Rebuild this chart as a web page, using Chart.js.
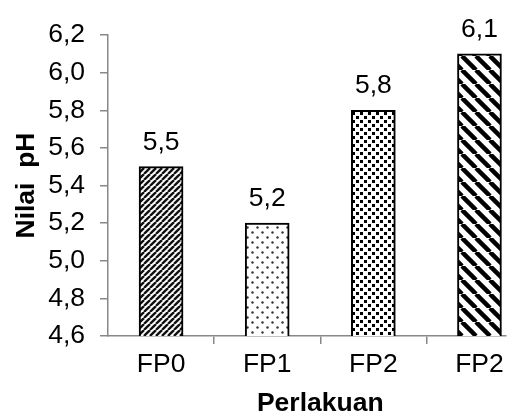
<!DOCTYPE html>
<html>
<head>
<meta charset="utf-8">
<script src="https://cdn.jsdelivr.net/npm/chart.js@4/dist/chart.umd.min.js"></script>
<style>
html,body{margin:0;padding:0;background:#fff;overflow:hidden;}
canvas{display:block;}
</style>
</head>
<body>
<canvas id="c" width="518" height="417"></canvas>
<script>
const categories = ['FP0', 'FP1', 'FP2', 'FP2'];
const phValues = [5.5, 5.2, 5.8, 6.1];
const yTicks = [4.6, 4.8, 5.0, 5.2, 5.4, 5.6, 5.8, 6.0, 6.2];
const yTitle = 'Nilai  pH';
const xTitle = 'Perlakuan';

const FONT = '"Liberation Sans", Arial, sans-serif';
const FS = 26.5;

function makeTile(w, h, draw) {
  const t = document.createElement('canvas');
  t.width = w; t.height = h;
  const g = t.getContext('2d');
  g.fillStyle = '#fff';
  g.fillRect(0, 0, w, h);
  draw(g, w, h);
  return document.createElement('canvas').getContext('2d').createPattern(t, 'repeat');
}
const patFine = makeTile(6, 6, (g, w, h) => {
  g.strokeStyle = '#111'; g.lineWidth = 2.4;
  for (const o of [-w, 0, w]) { g.beginPath(); g.moveTo(o, h); g.lineTo(o + w, 0); g.stroke(); }
});
const patDots = makeTile(10, 10, (g) => {
  g.fillStyle = '#333';
  for (const [x, y] of [[2.5, 2.5], [7.5, 7.5]]) { g.beginPath(); g.arc(x, y, 1.2, 0, Math.PI * 2); g.fill(); }
});
const patSquares = makeTile(8, 8, (g) => {
  g.fillStyle = '#000';
  g.fillRect(0, 0, 3, 3);
  g.fillRect(4, 4, 3, 3);
});
const patWide = makeTile(14, 14, (g, w, h) => {
  g.strokeStyle = '#000'; g.lineWidth = 4.5;
  for (const o of [-w, 0, w]) { g.beginPath(); g.moveTo(o, 0); g.lineTo(o + w, h); g.stroke(); }
});
const patterns = [patFine, patDots, patSquares, patWide];

const labelPlugin = {
  id: 'valueLabels',
  afterDatasetsDraw(chart) {
    const ctx = chart.ctx;
    const meta = chart.getDatasetMeta(0);
    ctx.save();
    ctx.font = FS + 'px ' + FONT;
    ctx.fillStyle = '#000';
    ctx.textAlign = 'center';
    ctx.textBaseline = 'alphabetic';
    meta.data.forEach((bar, i) => {
      ctx.fillText(phValues[i].toFixed(1).replace('.', ','), bar.x, bar.y - 17);
    });
    // x-axis title, centred on the full category span (0.5 .. 4.5)
    const xs = chart.scales.x;
    ctx.font = 'bold ' + FS + 'px ' + FONT;
    ctx.textBaseline = 'middle';
    ctx.fillText(xTitle, xs.getPixelForValue((0.5 + categories.length + 0.5) / 2), chart.height - FS / 2);
    ctx.restore();
  }
};

const halfTick = (c) => (c.tick && Number.isInteger(c.tick.value)) ? 'rgba(0,0,0,0)' : '#888';

new Chart(document.getElementById('c'), {
  type: 'bar',
  data: {
    datasets: [{
      data: phValues.map((v, i) => ({ x: i + 1, y: v })),
      backgroundColor: patterns,
      borderColor: '#000',
      borderWidth: 2,
      barThickness: 44,
      borderSkipped: false
    }]
  },
  options: {
    responsive: false,
    animation: false,
    layout: { padding: { top: 35, right: 12, left: 0, bottom: 0 } },
    plugins: { legend: { display: false }, tooltip: { enabled: false } },
    scales: {
      x: {
        type: 'linear',
        offset: false,
        min: 0.5,
        max: 4.25,
        afterBuildTicks: (s) => { s.ticks = [1, 1.5, 2, 2.5, 3, 3.5, 4].map(v => ({ value: v })); },
        afterFit: (s) => { s.height = 81; },
        ticks: {
          autoSkip: false, maxRotation: 0, padding: 5,
          color: '#000',
          font: { family: FONT, size: FS },
          callback: (v) => Number.isInteger(v) ? categories[v - 1] : ''
        },
        grid: {
          offset: false,
          drawOnChartArea: false,
          tickLength: 8,
          lineWidth: 1.5,
          color: halfTick,
          tickColor: halfTick
        },
        border: { display: true, color: '#888', width: 1.5 },
        title: { display: false }
      },
      y: {
        min: 4.6,
        max: 6.2,
        afterBuildTicks: (s) => { s.ticks = yTicks.map(v => ({ value: v })); },
        afterFit: (s) => { s.width = 108; },
        ticks: {
          padding: 15,
          color: '#000',
          font: { family: FONT, size: FS },
          callback: (v) => Number(v).toFixed(1).replace('.', ',')
        },
        grid: { drawOnChartArea: false, tickLength: 8, color: '#888', lineWidth: 1.5 },
        border: { display: true, color: '#888', width: 1.5 },
        title: {
          display: true, text: yTitle, color: '#000',
          font: { family: FONT, size: FS, weight: 'bold', lineHeight: 1 },
          padding: { top: 13, bottom: 0 }
        }
      }
    }
  },
  plugins: [labelPlugin]
});
</script>
</body>
</html>
